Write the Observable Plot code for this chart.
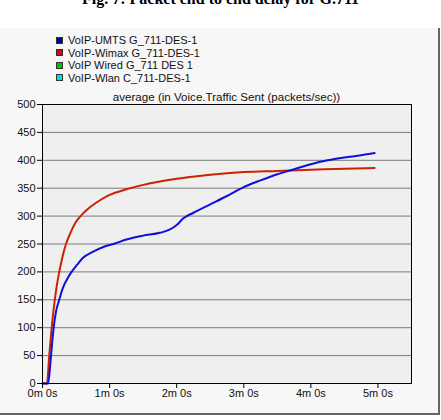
<!DOCTYPE html>
<html>
<head>
<meta charset="utf-8">
<script src="https://cdn.jsdelivr.net/npm/d3@7"></script>
<script src="https://cdn.jsdelivr.net/npm/@observablehq/plot@0.6"></script>
<style>
  html, body { margin: 0; padding: 0; background: #fff; width: 441px; height: 420px; overflow: hidden; position: relative; font-family: "Liberation Sans", Arial, sans-serif; }
  #fig { position: absolute; left: 0; top: -9px; width: 441px; text-align: center; font: bold 16px "Liberation Serif", "Times New Roman", serif; line-height: 16px; white-space: nowrap; }
  #panel { position: absolute; left: 0; top: 28px; width: 438px; height: 385px; background: #f7f7f7; border-right: 2px solid #666; border-bottom: 2px solid #666; }
  #legend { position: absolute; left: 56px; top: 34px; font-size: 11px; color: #111; }
  .li { height: 12.5px; line-height: 12.5px; display: flex; align-items: center; white-space: nowrap; }
  .sw { width: 5px; height: 5px; border: 1px solid #333; margin-right: 5px; }
  #sub { position: absolute; left: 42px; width: 369px; top: 90px; text-align: center; font-size: 11.6px; color: #111; white-space: nowrap; }
  #chart { position: absolute; left: 0; top: 90px; }
</style>
</head>
<body>
<div id="fig">Fig. 7: Packet end to end delay for G.711</div>
<div id="panel"></div>
<div id="legend"></div>
<div id="sub"></div>
<div id="chart"></div>
<script>
const seriesNames = ["VoIP-UMTS G_711-DES-1", "VoIP-Wimax G_711-DES-1", "VoIP Wired G_711 DES 1", "VoIP-Wlan C_711-DES-1"];
const seriesColors = ["#00009c", "#dd0000", "#00c000", "#00dede"];
const subtitle = "average (in Voice.Traffic Sent (packets/sec))";

const xTicks = [0, 60, 120, 180, 240, 300];
const xTickLabels = ["0m 0s", "1m 0s", "2m 0s", "3m 0s", "4m 0s", "5m 0s"];
const yTicks = [0, 50, 100, 150, 200, 250, 300, 350, 400, 450, 500];

// UMTS (blue)
const umtsT = [0, 5, 7, 8.5, 10, 12, 15, 18, 22, 26, 31, 36, 45, 55, 65, 75, 90, 105, 114, 120, 126, 135, 150, 165, 180, 195, 210, 225, 240, 255, 270, 285, 297];
const umtsV = [0, 0, 35, 70, 100, 128, 150, 170, 187, 200, 213, 225, 236, 245, 251, 258, 265, 270, 276, 284, 296, 306, 321, 336, 352, 364, 375, 384, 393, 400, 405, 409, 413];
// Wimax (red)
const wimaxT = [0, 4, 6, 8, 9.5, 11, 13, 15, 18, 21, 25, 30, 34, 40, 48, 60, 75, 90, 105, 120, 140, 160, 180, 210, 240, 270, 297];
const wimaxV = [0, 0, 50, 95, 125, 150, 178, 200, 228, 250, 270, 290, 300, 312, 324, 338, 348, 356, 362, 367, 372, 376, 379, 381, 383, 385, 386];

const umts = umtsT.map((t, i) => ({t, v: umtsV[i]}));
const wimax = wimaxT.map((t, i) => ({t, v: wimaxV[i]}));

// legend
const lg = document.getElementById("legend");
seriesNames.forEach((n, i) => {
  const d = document.createElement("div");
  d.className = "li";
  d.innerHTML = `<span class="sw" style="background:${seriesColors[i]}"></span><span>${n}</span>`;
  lg.appendChild(d);
});
document.getElementById("sub").textContent = subtitle;

const chart = Plot.plot({
  width: 441,
  height: 315,
  marginLeft: 42,
  marginRight: 30,
  marginTop: 14,
  marginBottom: 22,
  style: { background: "transparent", fontFamily: "Liberation Sans, Arial, sans-serif", fontSize: "11px", color: "#111" },
  x: { domain: [0, 330], label: null },
  y: { domain: [0, 500], label: null },
  marks: [
    Plot.frame({ fill: "#efefef", stroke: null }),
    Plot.gridY(yTicks, { stroke: "#7a7a7a", strokeOpacity: 1, strokeWidth: 1 }),
    Plot.line(wimax, { x: "t", y: "v", stroke: "#cc2200", strokeWidth: 2, curve: "monotone-x" }),
    Plot.line(umts, { x: "t", y: "v", stroke: "#1010dd", strokeWidth: 2, curve: "monotone-x" }),
    Plot.frame({ stroke: "#000", strokeWidth: 1 }),
    Plot.axisX(xTicks, { tickFormat: (d) => xTickLabels[xTicks.indexOf(d)], tickSize: 5, tickPadding: 1, stroke: "#000", label: null }),
    Plot.axisY(yTicks, { tickSize: 5, tickPadding: 2, stroke: "#000", label: null })
  ]
});
document.getElementById("chart").appendChild(chart);
</script>
</body>
</html>
